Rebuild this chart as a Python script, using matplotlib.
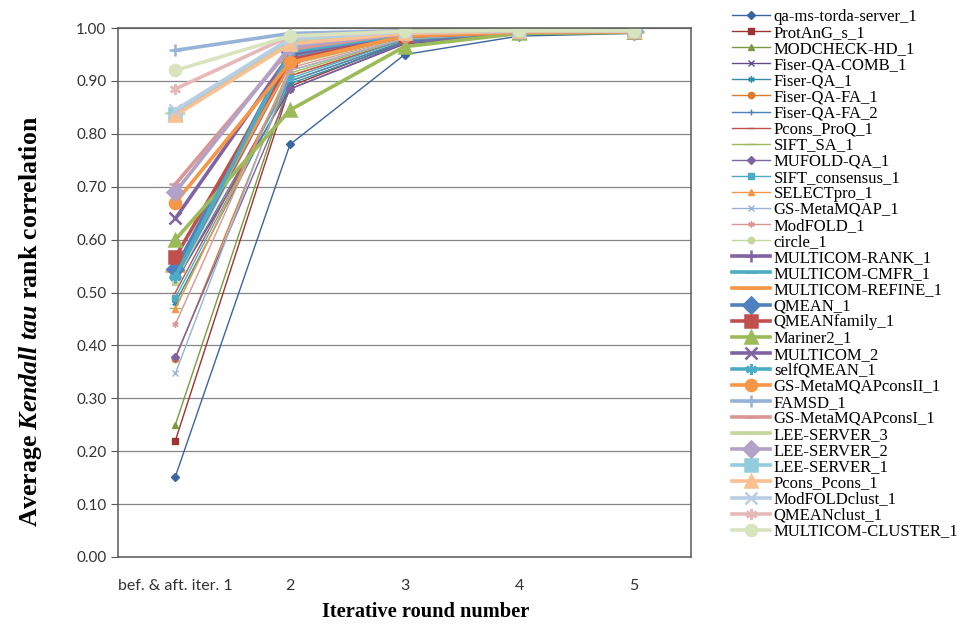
import numpy as np
import matplotlib
matplotlib.use("Agg")
import matplotlib.pyplot as plt

# series names, in legend order
servers = [
    "qa-ms-torda-server_1", "ProtAnG_s_1", "MODCHECK-HD_1", "Fiser-QA-COMB_1",
    "Fiser-QA_1", "Fiser-QA-FA_1", "Fiser-QA-FA_2", "Pcons_ProQ_1", "SIFT_SA_1",
    "MUFOLD-QA_1", "SIFT_consensus_1", "SELECTpro_1", "GS-MetaMQAP_1",
    "ModFOLD_1", "circle_1", "MULTICOM-RANK_1", "MULTICOM-CMFR_1",
    "MULTICOM-REFINE_1", "QMEAN_1", "QMEANfamily_1", "Mariner2_1", "MULTICOM_2",
    "selfQMEAN_1", "GS-MetaMQAPconsII_1", "FAMSD_1", "GS-MetaMQAPconsI_1",
    "LEE-SERVER_3", "LEE-SERVER_2", "LEE-SERVER_1", "Pcons_Pcons_1",
    "ModFOLDclust_1", "QMEANclust_1", "MULTICOM-CLUSTER_1",
]
rounds = ["bef. & aft. iter. 1", "2", "3", "4", "5"]

# average Kendall tau per iterative round
tau_r1 = [0.152, 0.220, 0.250, 0.520, 0.480, 0.375, 0.520, 0.500, 0.470,
          0.378, 0.490, 0.469, 0.347, 0.440, 0.520, 0.530, 0.530, 0.540,
          0.545, 0.567, 0.600, 0.640, 0.530, 0.670, 0.958, 0.705, 0.840,
          0.690, 0.838, 0.835, 0.845, 0.885, 0.920]
tau_r2 = [0.780, 0.890, 0.900, 0.885, 0.895, 0.910, 0.900, 0.910, 0.915,
          0.885, 0.905, 0.920, 0.920, 0.925, 0.930, 0.935, 0.945, 0.935,
          0.955, 0.940, 0.845, 0.950, 0.955, 0.935, 0.990, 0.960, 0.975,
          0.965, 0.970, 0.970, 0.980, 0.985, 0.985]
tau_r3 = [0.950, 0.975, 0.975, 0.970, 0.972, 0.978, 0.975, 0.978, 0.980,
          0.972, 0.978, 0.980, 0.980, 0.982, 0.982, 0.985, 0.985, 0.985,
          0.988, 0.985, 0.965, 0.988, 0.988, 0.985, 0.995, 0.990, 0.992,
          0.990, 0.992, 0.990, 0.993, 0.994, 0.994]
tau_r4 = [0.985, 0.990, 0.990, 0.988, 0.989, 0.990, 0.990, 0.990, 0.991,
          0.989, 0.990, 0.991, 0.991, 0.991, 0.992, 0.992, 0.992, 0.992,
          0.993, 0.992, 0.990, 0.993, 0.993, 0.992, 0.995, 0.994, 0.995,
          0.994, 0.995, 0.994, 0.995, 0.996, 0.996]
tau_r5 = [0.990, 0.992, 0.992, 0.991, 0.991, 0.992, 0.992, 0.992, 0.992,
          0.991, 0.992, 0.992, 0.992, 0.993, 0.993, 0.993, 0.993, 0.993,
          0.994, 0.993, 0.992, 0.994, 0.994, 0.993, 0.995, 0.994, 0.995,
          0.994, 0.995, 0.994, 0.995, 0.995, 0.995]

# excel-like palette: dark / base / light / lighter
dark = ["#3A659E", "#9E3330", "#7A9A42", "#644C88", "#2F8CA6", "#DE7A26"]
base = ["#4F81BD", "#C0504D", "#9BBB59", "#8064A2", "#4BACC6", "#F79646"]
light = ["#95B3D7", "#D99694", "#C3D69B", "#B3A2C7", "#93CDDD", "#FAC090"]
lighter = ["#B9CDE5", "#E6B9B8", "#D7E4BD"]
colors = dark + base + [light[0], light[1], light[2]] + base[3:] + base + light + lighter

markers = ["D", "s", "^", "x", (6, 2, 0), "o", "+", "_", "_"]

plt.rcParams["mathtext.fontset"] = "custom"
plt.rcParams["mathtext.it"] = "Liberation Serif:italic:bold"
plt.rcParams["mathtext.rm"] = "Liberation Serif:bold"

fig = plt.figure(figsize=(9.6, 6.25), dpi=100)
ax = fig.add_axes([0.123, 0.109, 0.597, 0.846])

x = np.arange(len(rounds))
data = np.array([tau_r1, tau_r2, tau_r3, tau_r4, tau_r5]).T

for i, name in enumerate(servers):
    thick = i >= 15
    m = markers[i % 9]
    ms = 4.5 if not thick else 8
    if i % 9 == 8:
        ms = ms * 1.8
    mew = 1.0 if not thick else 1.8
    ax.plot(x, data[i], color=colors[i], lw=2.6 if thick else 1.0,
            marker=m, markersize=ms, markeredgewidth=mew,
            markerfacecolor=colors[i], markeredgecolor=colors[i], label=name)

ax.set_xlim(-0.5, len(rounds) - 0.5)
ax.set_ylim(0, 1.0)
ax.set_yticks(np.arange(0, 1.01, 0.1))
ax.set_yticklabels([f"{v:.2f}" for v in np.arange(0, 1.01, 0.1)])
ax.set_xticks(x)
ax.set_xticklabels(rounds)
ax.yaxis.grid(True, color="#868686", lw=0.9)
ax.set_axisbelow(True)
for s in ax.spines.values():
    s.set_color("#595959")
    s.set_linewidth(1.1)
ax.tick_params(axis="y", length=5, color="#595959", labelsize=11, labelcolor="#333333")
ax.tick_params(axis="x", length=0, labelsize=11.5, labelcolor="#333333", pad=16)
for t in ax.get_xticklabels() + ax.get_yticklabels():
    t.set_fontfamily("Lato")

ax.set_xlabel("Iterative round number", fontfamily="Liberation Serif",
              fontweight="bold", fontsize=14.7)
ax.xaxis.set_label_coords(0.5375, -0.085)
ax.set_ylabel(r"Average $\mathit{Kendall\ tau}$ rank correlation",
              fontfamily="Liberation Serif", fontweight="bold", fontsize=18.5)
ax.yaxis.set_label_coords(-0.13, 0.446)

ax.legend(loc="upper left", bbox_to_anchor=(1.059, 1.049), frameon=False,
          prop={"family": "Liberation Serif", "size": 12},
          labelspacing=0.005, handlelength=2.28, handletextpad=0.25,
          borderaxespad=0.0)

fig.savefig("out.png", dpi=100)
